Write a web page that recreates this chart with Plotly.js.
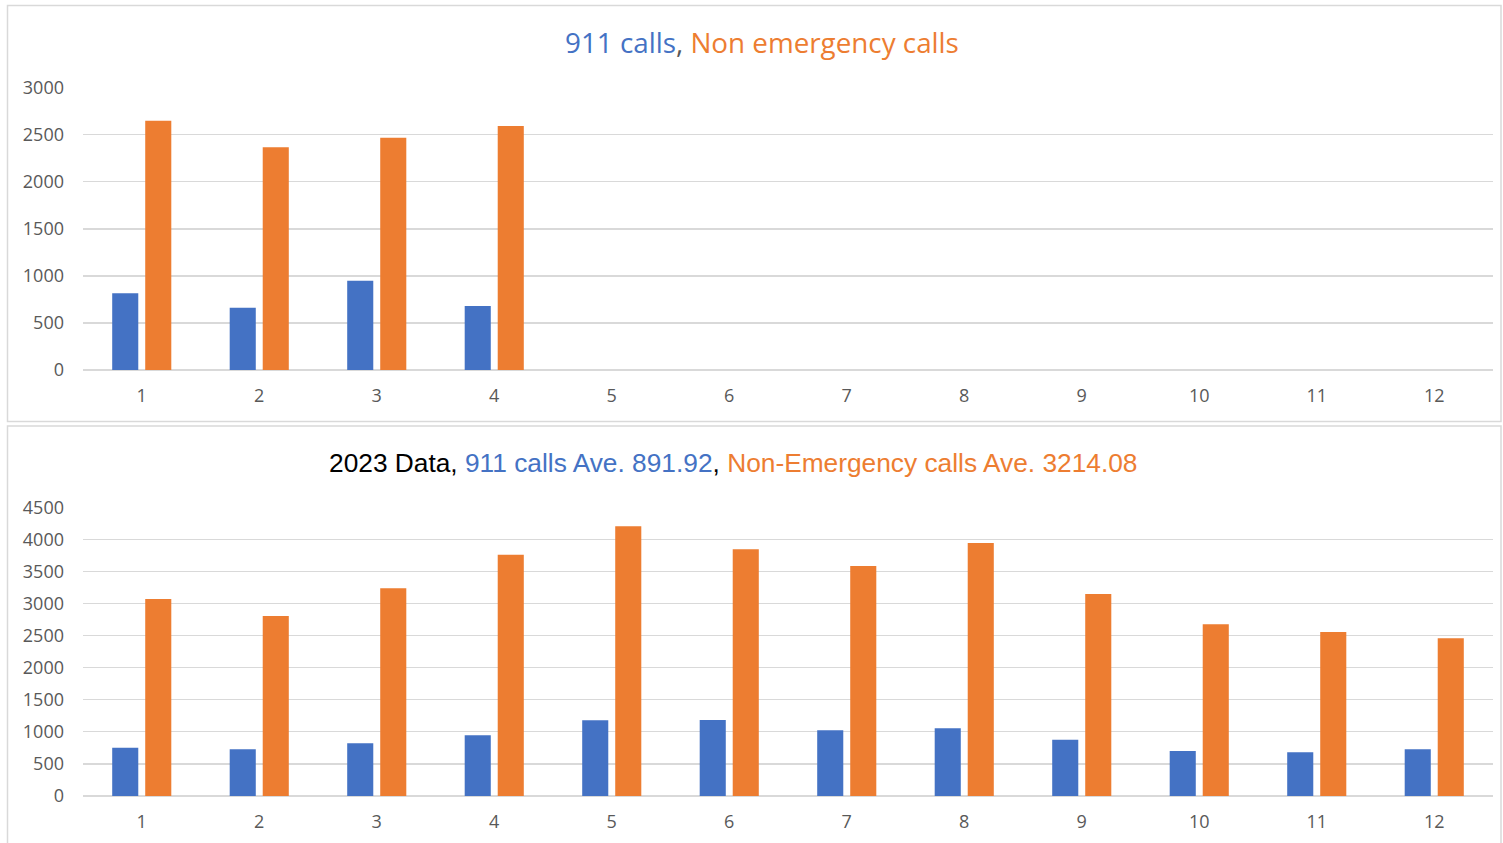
<!DOCTYPE html>
<html>
<head>
<meta charset="utf-8">
<script src="https://cdn.plot.ly/plotly-3.0.1.min.js"></script>
<style>html,body{margin:0;padding:0;background:#fff;}#chart{width:1503px;height:843px;}</style>
</head>
<body>
<div id="chart"></div>
<script>
// Top chart (partial year)
const monthsTop = [1, 2, 3, 4, 5, 6, 7, 8, 9, 10, 11, 12];
const calls911Top = [815, 662, 949, 680, null, null, null, null, null, null, null, null];
const nonEmergTop = [2649, 2366, 2469, 2593, null, null, null, null, null, null, null, null];

// Bottom chart (2023)
const months2023 = [1, 2, 3, 4, 5, 6, 7, 8, 9, 10, 11, 12];
const calls911_2023 = [753, 728, 821, 946, 1179, 1185, 1024, 1055, 878, 701, 681, 728];
const nonEmerg2023 = [3071, 2806, 3237, 3762, 4203, 3845, 3585, 3943, 3149, 2676, 2556, 2458];

const tickLabels = ['1','2','3','4','5','6','7','8','9','10','11','12'];
const topTitleParts = ['911 calls', 'Non emergency calls'];
const bottomTitleParts = ['2023 Data', '911 calls Ave. 891.92', 'Non-Emergency calls Ave. 3214.08'];

const BLUE = '#4472C4', ORANGE = '#ED7D31', GRID = '#d9d9d9', TICK = '#595959';
const W = 1503, H = 843;
const px = v => v / W;
const py = v => 1 - v / H;

const traces = [
  {type: 'bar', x: monthsTop, y: calls911Top, marker: {color: BLUE}, xaxis: 'x', yaxis: 'y', hoverinfo: 'x+y'},
  {type: 'bar', x: monthsTop, y: nonEmergTop, marker: {color: ORANGE}, xaxis: 'x', yaxis: 'y', hoverinfo: 'x+y'},
  {type: 'bar', x: months2023, y: calls911_2023, marker: {color: BLUE}, xaxis: 'x2', yaxis: 'y2', hoverinfo: 'x+y'},
  {type: 'bar', x: months2023, y: nonEmerg2023, marker: {color: ORANGE}, xaxis: 'x2', yaxis: 'y2', hoverinfo: 'x+y'}
];

const tickFont = {family: 'Open Sans, sans-serif', size: 18, color: TICK};
function xAx(anchor) {
  return {domain: [px(83), px(1493)], range: [0.5, 12.5], tickvals: monthsTop, ticktext: tickLabels,
    showgrid: false, zeroline: false, showline: false, ticks: '', tickfont: tickFont,
    ticklabelstandoff: 13, anchor: anchor, fixedrange: true};
}
function yAx(anchor, domain, range, dtick) {
  return {domain: domain, range: range, dtick: dtick, showgrid: true, gridcolor: GRID, gridwidth: 1.3,
    zeroline: true, zerolinecolor: GRID, zerolinewidth: 1.3, showline: false, ticks: '',
    tickfont: tickFont, ticklabelstandoff: 18, anchor: anchor, fixedrange: true};
}

const layout = {
  width: W, height: H,
  margin: {l: 0, r: 0, t: 0, b: 0},
  paper_bgcolor: '#fff', plot_bgcolor: '#fff',
  showlegend: false,
  barmode: 'group', bargap: 0.438, bargroupgap: 0.21,
  xaxis: xAx('y'),
  yaxis: yAx('x', [py(370), py(87.7)], [0, 3000], 500),
  xaxis2: xAx('y2'),
  yaxis2: yAx('x2', [py(796), py(507.3)], [0, 4500], 500),
  shapes: [
    {type: 'rect', xref: 'paper', yref: 'paper', x0: px(7.5), x1: px(1501), y0: py(421.5), y1: py(5.5), line: {color: GRID, width: 1.5}},
    {type: 'rect', xref: 'paper', yref: 'paper', x0: px(7.5), x1: px(1501), y0: -0.02, y1: py(426), line: {color: GRID, width: 1.5}}
  ],
  annotations: [
    {xref: 'paper', yref: 'paper', x: px(762), y: py(42), xanchor: 'center', yanchor: 'middle', showarrow: false,
     font: {family: 'Open Sans, sans-serif', size: 27.8, color: BLUE},
     text: '<span style="color:' + BLUE + '">' + topTitleParts[0] + '</span><span style="color:#595959">, </span><span style="color:' + ORANGE + '">' + topTitleParts[1] + '</span>'},
    {xref: 'paper', yref: 'paper', x: px(732.5), y: py(463), xanchor: 'center', yanchor: 'middle', showarrow: false,
     font: {family: 'Liberation Sans, Arial, sans-serif', size: 26.3, color: '#000'},
     text: '<span style="color:#000">' + bottomTitleParts[0] + ', </span><span style="color:' + BLUE + '">' + bottomTitleParts[1] + '</span><span style="color:#000">, </span><span style="color:' + ORANGE + '">' + bottomTitleParts[2] + '</span>'}
  ]
};

Plotly.newPlot('chart', traces, layout, {displayModeBar: false, staticPlot: true});
</script>
</body>
</html>
